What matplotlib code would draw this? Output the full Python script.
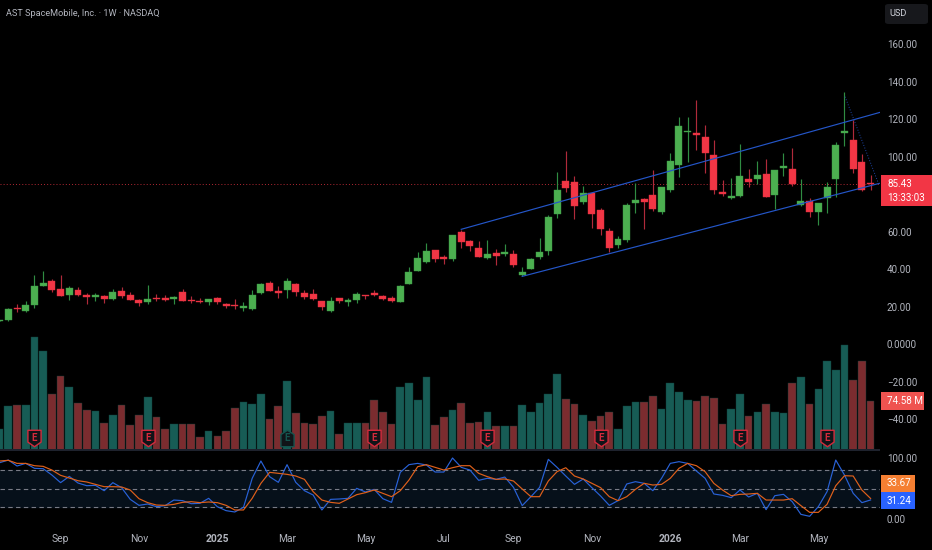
import numpy as np
import matplotlib
matplotlib.use('Agg')
import matplotlib.pyplot as plt
from matplotlib.patches import FancyBboxPatch, Rectangle
from matplotlib.path import Path

plt.rcParams['font.family'] = ['Roboto', 'DejaVu Sans']

#weekly candles
opens = [12.4,12.8,19.2,17.6,20.6,30.9,33.6,29.2,26.3,28.8,26.3,25.1,25.8,24.0,28.4,26.0,23.5,22.2,24.5,24.5,23.8,27.6,23.5,23.1,22.2,24.5,21.3,20.8,19.4,18.5,27.2,32.7,28.1,28.8,32.0,27.4,
         26.5,22.8,17.6,24.4,22.4,23.6,26.1,27.2,25.4,24.5,22.6,32.2,39.1,43.6,50.0,46.2,45.2,59.7,54.9,51.2,46.0,48.4,47.8,48.0,36.6,40.0,46.6,49.8,69.3,86.8,86.4,75.9,80.4,71.5,60.4,52.8,
         55.5,75.0,77.3,79.6,70.6,82.0,95.3,113.1,112.7,110.2,100.8,80.9,78.0,78.8,87.8,87.8,90.5,79.5,94.0,93.3,74.1,76.4,70.4,77.9,87.8,112.5,108.8,97.2,86.0]
closes = [12.8,18.7,18.5,20.8,30.9,32.7,28.8,25.8,29.7,26.3,25.1,26.0,24.0,27.9,25.4,23.6,21.9,24.0,24.0,23.6,25.2,23.1,22.9,22.6,23.8,22.2,20.4,20.3,20.3,26.3,32.0,28.3,27.0,33.4,27.9,25.2,
          23.8,19.7,23.1,23.1,23.6,26.5,25.6,26.3,23.8,22.9,31.1,38.2,45.7,49.4,45.5,45.5,58.0,54.2,52.4,46.4,48.0,46.9,48.9,42.3,38.6,45.2,48.9,67.7,82.1,83.4,73.8,80.4,69.3,61.3,51.0,56.2,
          74.1,76.8,75.6,71.8,83.6,97.6,116.1,113.8,111.5,101.9,82.3,80.2,79.1,89.6,86.4,90.0,78.6,92.8,94.9,85.3,76.4,70.6,75.2,83.7,106.0,113.6,93.5,82.3,85.43]
highs = [12.9,19.4,21.3,23.1,36.8,39.1,34.7,36.8,30.9,30.4,27.0,27.0,26.1,29.2,30.4,27.7,24.0,31.3,26.7,26.0,25.6,29.2,25.6,24.7,24.0,25.1,21.7,23.8,22.2,28.6,32.4,33.4,30.9,35.4,32.7,28.6,
         29.5,22.9,24.9,24.5,24.4,27.6,26.1,29.0,26.1,25.4,31.3,41.1,49.1,54.0,50.1,47.5,58.1,60.8,55.5,54.8,55.5,50.5,53.3,50.1,40.9,45.9,56.5,68.8,91.6,102.9,89.8,84.3,80.4,72.5,62.0,57.6,
         75.0,85.7,77.7,93.0,83.6,101.7,121.1,121.1,130.3,116.8,108.6,87.5,88.7,106.7,93.3,97.4,98.7,92.8,102.0,104.4,87.8,77.7,75.2,86.2,107.7,134.2,119.5,101.2,90.1]
lows = [12.3,12.3,17.1,17.1,19.4,30.9,27.7,25.8,23.6,25.8,21.3,22.8,21.7,23.6,24.7,23.5,20.3,21.5,22.9,22.9,21.5,22.9,22.0,22.0,21.0,21.5,19.2,18.7,17.6,18.3,26.8,28.1,24.7,24.4,25.8,24.0,
        23.5,18.1,17.1,21.7,20.3,22.0,23.8,25.4,23.5,22.6,22.6,32.0,38.8,43.0,43.9,42.5,44.4,51.4,49.8,46.4,45.5,42.3,46.9,41.2,36.1,39.8,45.3,47.5,67.4,81.2,66.8,74.7,62.0,58.1,49.2,51.4,
        54.6,69.9,61.3,70.9,69.3,81.2,89.1,97.2,103.5,91.4,80.0,78.9,77.3,78.4,83.9,85.5,78.6,72.0,89.8,84.4,73.8,67.6,63.5,70.0,78.6,105.6,91.0,81.6,82.3]

#volume in millions
volume = [31.4,65.9,67.4,68.4,171.4,150.1,84.7,112.0,95.3,71.0,60.8,59.3,40.6,53.2,67.4,38.0,53.2,80.6,49.2,31.4,39.5,39.0,38.5,19.8,27.9,21.3,27.9,63.4,72.5,69.5,85.2,46.1,65.9,104.9,55.8,40.6,
          39.0,51.7,58.3,23.8,40.6,41.1,40.1,76.1,57.8,39.5,94.8,100.9,75.5,111.0,38.0,50.2,60.8,70.5,41.1,42.1,57.3,36.5,36.0,35.5,68.4,57.8,71.5,84.2,115.6,76.6,69.5,53.2,43.6,51.7,57.3,31.4,
          66.4,72.0,73.0,82.1,61.9,101.4,87.2,75.5,74.0,81.1,79.1,39.5,61.9,85.2,51.7,57.8,69.5,57.8,56.3,101.4,111.0,69.5,92.8,135.4,120.7,159.7,106.5,135.4,74.58]

#stoch rsi
stoch_k = [92.3,96.7,86.9,91.2,83.1,82.5,72.1,59.6,69.9,59.0,54.6,55.2,46.4,59.6,51.4,32.2,22.4,24.6,20.2,21.9,31.1,30.1,25.1,25.7,33.9,20.2,13.7,11.5,19.1,66.7,95.1,69.4,60.1,89.1,60.1,46.4,
           39.3,14.8,32.2,32.8,33.9,50.3,44.3,48.6,33.3,27.3,76.5,89.1,91.2,88.5,77.0,77.0,100.0,84.7,80.3,63.4,66.7,65.0,68.8,51.9,21.9,36.6,51.9,97.8,84.7,70.5,56.8,65.6,51.4,37.7,22.4,30.1,
           57.4,61.2,58.5,46.4,66.7,91.2,94.0,91.2,78.7,66.7,41.0,38.8,35.0,47.5,36.1,42.1,15.3,38.2,40.4,28.4,7.6,4.4,20.2,44.8,96.7,72.1,42.1,26.8,31.24]
stoch_d = [95.1,96.2,91.2,91.2,87.4,86.3,80.3,71.6,67.2,62.8,60.7,56.8,53.0,53.0,52.5,47.5,33.3,26.8,22.9,22.4,24.0,27.3,28.4,26.8,27.9,26.8,22.4,14.8,14.8,33.9,58.5,76.5,74.9,73.2,70.5,65.0,
           44.8,31.1,27.3,25.7,32.8,39.9,43.2,47.5,42.1,36.6,46.4,63.9,85.8,89.1,84.7,80.3,84.1,87.4,87.4,74.9,69.4,65.0,65.6,62.3,49.2,36.6,36.6,62.3,77.6,84.1,70.5,65.6,58.5,51.4,36.6,30.1,
           36.6,48.6,58.5,55.7,56.8,66.7,83.1,91.2,87.4,77.6,58.5,47.5,38.2,40.4,41.0,42.1,31.1,31.1,31.1,33.3,21.9,10.9,10.9,24.0,54.6,71.0,70.5,47.5,33.67]

price_ticks = [160,140,120,100,80,60,40,20,0,-20,-40]
price_tick_labels = ['160.00','140.00','120.00','100.00','','60.00','40.00','20.00','0.0000','\u221220.00','\u221240.00']
time_ticks = [7,16,25,33,42,51,59,68,77,85,94]
time_labels = ['Sep','Nov','2025','Mar','May','Jul','Sep','Nov','2026','Mar','May']
stoch_ticks = [100,0]
stoch_tick_labels = ['100.00','0.00']
earnings_up = [33] #green one
earnings_down = [4,17,43,56,69,85,95]
channel_top = ([53,101.1],[61.2,123.6])
channel_bottom = ([60,101],[36.1,85.7])
drop_line = ([97.07,100.9],[131.9,85.7])
last_close = 85.43

W,H = 932,550
BG = '#000000'
TXT = '#b2b5be'
GREEN,RED = '#4caf50','#f23645'
FS = 7.1
px = 1/W
py = 1/H

fig = plt.figure(figsize=(W/100,H/100),dpi=100,facecolor=BG)
ax = fig.add_axes([0,1-450*py,880*px,450*py],facecolor=BG)
ax_st = fig.add_axes([0,1-524*py,880*px,73*py],facecolor=BG)

x = np.arange(len(opens))
opens,closes,highs,lows = map(np.array,(opens,closes,highs,lows))
up = closes>=opens

#volume behind the candles, own scale
ax_v = ax.twinx()
ax_v.set_ylim(-0.7,683.7)
ax_v.axis('off')
ax_v.bar(x,volume,width=0.88,color=np.where(up,'#175c55','#7b2c2f'),edgecolor='#0f3d39',linewidth=0.3)
ax.set_zorder(ax_v.get_zorder()+1)
ax.patch.set_visible(False)
ax_v.patch.set_visible(False)

ax.vlines(x[up],lows[up],highs[up],color='#2f8c42',linewidth=0.85,zorder=2)
ax.vlines(x[~up],lows[~up],highs[~up],color='#b02a3a',linewidth=0.85,zorder=2)
ax.bar(x,np.maximum(np.abs(closes-opens),0.5),bottom=np.minimum(opens,closes),width=0.8,
       color=np.where(up,GREEN,RED),edgecolor=np.where(up,'#3c9a48','#e0303f'),linewidth=0.3,zorder=3)

ax.set_xlim(0.044,101.08)
ax.set_ylim(-56.5,183.5)
ax.axhline(last_close,color='#f23645',linewidth=0.7,linestyle=(0,(1,2.2)),alpha=0.75,zorder=1)
ax.plot(*channel_top,color='#2456c8',linewidth=0.85,zorder=4)
ax.plot(*channel_bottom,color='#2456c8',linewidth=0.85,zorder=4)
ax.plot(*drop_line,color='#1f47a8',linewidth=0.7,linestyle=(0,(1,1.8)),zorder=4)

ax.yaxis.tick_right()
ax.set_yticks(price_ticks)
ax.set_yticklabels(price_tick_labels)
ax.tick_params(axis='y',length=0,pad=5,labelsize=FS,labelcolor=TXT)
ax.set_xticks([])
for a in (ax,ax_st):
    for s in a.spines.values():
        s.set_visible(False)

#earnings badges
shield = Path([(-1,1.25),(1,1.25),(1,-0.55),(0,-1.25),(-1,-0.55),(-1,1.25)],closed=True)
house = Path([(0,1.25),(1,0.6),(1,-1.25),(-1,-1.25),(-1,0.6),(0,1.25)],closed=True)
tr = ax.get_xaxis_transform()
for idx,mk,col in ((earnings_down,shield,'#d42a3c'),(earnings_up,house,'#14544e')):
    ax.scatter(idx,[0.026]*len(idx),marker=mk,s=140,facecolor='#101418',edgecolor=col,linewidth=1.0,transform=tr,zorder=5)
    for i in idx:
        ax.text(i,0.026,'E',color=col,fontsize=7,fontweight='bold',ha='center',va='center',transform=tr,zorder=6)

#stoch pane
ax_st.set_xlim(0.044,101.08)
ax_st.set_ylim(-8.2,111.5)
ax_st.axhspan(20,80,color='#06101a',zorder=0)
for lvl in (80,50,20):
    ax_st.axhline(lvl,color='#787b86',linewidth=0.8,linestyle=(0,(4,3)),zorder=1)
ax_st.plot(x,stoch_k,color='#2962d8',linewidth=0.85,zorder=2)
ax_st.plot(x,stoch_d,color='#e0601a',linewidth=0.85,zorder=3)
ax_st.yaxis.tick_right()
ax_st.set_yticks(stoch_ticks)
ax_st.set_yticklabels(stoch_tick_labels)
ax_st.tick_params(axis='y',length=0,pad=5,labelsize=FS,labelcolor=TXT)
ax_st.set_xticks(time_ticks)
ax_st.set_xticklabels(time_labels)
ax_st.tick_params(axis='x',length=0,pad=7,labelsize=FS+0.3,labelcolor=TXT)
ax_st.get_xticklabels()[2].set_fontweight('bold')
ax_st.get_xticklabels()[8].set_fontweight('bold')

#pane separator
fig.add_artist(Rectangle((0,1-451*py),880*px,2*py,transform=fig.transFigure,color='#1e222d',linewidth=0))

def tag(x0,y0,x1,y1,col):
    fig.add_artist(Rectangle((x0*px,1-y1*py),(x1-x0)*px,(y1-y0)*py,transform=fig.transFigure,color=col,linewidth=0,zorder=10))

def label(xp,yp,s,col='white',size=FS,**kw):
    fig.text(xp*px,1-yp*py,s,color=col,fontsize=size,va='center',ha='left',zorder=11,**kw)

tag(881,175,932,206,'#f23645')
label(887,184,'85.43')
label(887,198.5,'13:33:03')
tag(881,392,924,410,'#ef5350')
label(887,401,'74.58 M')
tag(881,475,915,492,'#f57f32')
label(887,483.5,'33.67')
tag(881,492,915,509,'#2962ff')
label(887,501,'31.24')

fig.add_artist(FancyBboxPatch((885*px,1-24*py),43*px,20*py,boxstyle='round,pad=0,rounding_size=0.004',
                              transform=fig.transFigure,facecolor='#17181c',edgecolor='none'))
label(889,14,'USD',col='#d1d4dc',size=6.6)
label(6,13.5,'AST SpaceMobile, Inc. \u00b7 1W \u00b7 NASDAQ',col=TXT,size=6.6)

fig.savefig('out.png',dpi=100,facecolor=BG)
